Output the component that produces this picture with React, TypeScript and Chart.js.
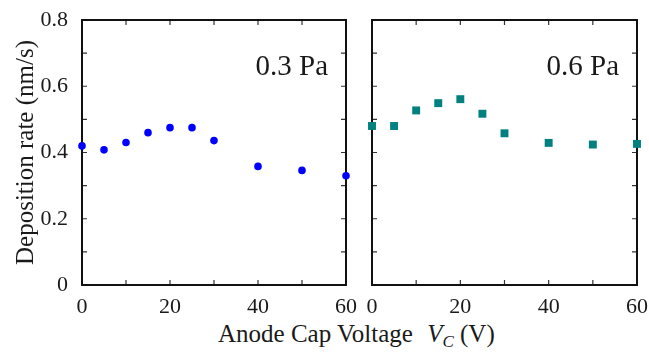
import React, { useEffect, useRef } from 'react';
import { Chart, registerables } from 'chart.js';

Chart.register(...registerables);

const SERIF = "'Liberation Serif', 'Times New Roman', serif";

// Data
const voltages = [0, 5, 10, 15, 20, 25, 30, 40, 50, 60];
const rate03 = [0.42, 0.408, 0.43, 0.46, 0.475, 0.475, 0.436, 0.358, 0.346, 0.33];
const rate06 = [0.48, 0.48, 0.527, 0.549, 0.561, 0.517, 0.458, 0.429, 0.424, 0.426];

// Axis ticks
const xTickLabels = [0, 20, 40, 60];
const yTickLabels = [0, 0.2, 0.4, 0.6, 0.8];
const xMinorTicks = [0, 10, 20, 30, 40, 50, 60];
const yMinorTicks = [0, 0.1, 0.2, 0.3, 0.4, 0.5, 0.6, 0.7, 0.8];

const panelLabels = ['0.3 Pa', '0.6 Pa'];
const yTitle = 'Deposition rate (nm/s)';

const framePlugin = {
  id: 'frame',
  beforeDatasetsDraw(chart: any) {
    const { ctx, chartArea: a, scales } = chart;
    ctx.save();
    ctx.strokeStyle = '#333';
    ctx.lineWidth = 1.2;
    ctx.beginPath();
    for (const v of xMinorTicks) {
      const px = scales.x.getPixelForValue(v);
      ctx.moveTo(px, a.bottom);
      ctx.lineTo(px, a.bottom - 5);
      ctx.moveTo(px, a.top);
      ctx.lineTo(px, a.top + 5);
    }
    for (const v of yMinorTicks) {
      const py = scales.y.getPixelForValue(v);
      ctx.moveTo(a.left, py);
      ctx.lineTo(a.left + 5, py);
      ctx.moveTo(a.right, py);
      ctx.lineTo(a.right - 5, py);
    }
    ctx.stroke();
    ctx.strokeStyle = '#111';
    ctx.lineWidth = 2;
    ctx.strokeRect(a.left, a.top, a.right - a.left, a.bottom - a.top);
    ctx.restore();
  },
  afterDraw(chart: any, _args: any, opts: any) {
    const { ctx, chartArea: a } = chart;
    ctx.save();
    ctx.font = `29px ${SERIF}`;
    ctx.fillStyle = '#1a1a1a';
    ctx.textAlign = 'right';
    ctx.textBaseline = 'alphabetic';
    ctx.fillText(opts.text, a.right - 18, a.top + 55);
    ctx.restore();
  },
};

type PanelProps = {
  left: number;
  width: number;
  values: number[];
  color: string;
  pointStyle: string;
  radius: number;
  label: string;
  showY: boolean;
  yAxisWidth: number;
};

function Panel({ left, width, values, color, pointStyle, radius, label, showY, yAxisWidth }: PanelProps) {
  const ref = useRef<HTMLCanvasElement | null>(null);
  useEffect(() => {
    if (!ref.current) return;
    const chart = new Chart(ref.current, {
      type: 'scatter',
      data: {
        datasets: [
          {
            data: voltages.map((v, i) => ({ x: v, y: values[i] })),
            backgroundColor: color,
            borderColor: color,
            borderWidth: 0,
            pointStyle: pointStyle as any,
            pointRadius: radius,
            pointHoverRadius: radius,
            clip: false as any,
          },
        ],
      },
      options: {
        responsive: false,
        animation: false,
        events: [],
        layout: { padding: { top: 20, right: 12, left: 0, bottom: 0 } },
        plugins: {
          legend: { display: false },
          tooltip: { enabled: false },
          frame: { text: label },
        } as any,
        scales: {
          x: {
            type: 'linear',
            min: 0,
            max: 60,
            grid: { display: false },
            border: { display: false },
            afterBuildTicks: (s: any) => {
              s.ticks = xTickLabels.map((v) => ({ value: v }));
            },
            afterFit: (s: any) => {
              s.height = 35;
            },
            ticks: {
              padding: 1,
              color: '#1a1a1a',
              font: { family: SERIF, size: 22 },
              callback: (v: any) => String(v),
            },
          },
          y: {
            type: 'linear',
            min: 0,
            max: 0.8,
            grid: { display: false },
            border: { display: false },
            afterBuildTicks: (s: any) => {
              s.ticks = yTickLabels.map((v) => ({ value: v }));
            },
            afterFit: (s: any) => {
              s.width = yAxisWidth;
            },
            ticks: {
              display: showY,
              padding: 6,
              color: '#1a1a1a',
              font: { family: SERIF, size: 22 },
              callback: (v: any) => String(v),
            },
            title: {
              display: showY,
              text: yTitle,
              color: '#1a1a1a',
              font: { family: SERIF, size: 25 },
              padding: { top: 11, bottom: 0 },
            },
          },
        },
      } as any,
      plugins: [framePlugin],
    });
    return () => chart.destroy();
  }, []);
  return (
    <canvas
      ref={ref}
      width={width}
      height={320}
      style={{ position: 'absolute', left, top: 0, width, height: 320 }}
    />
  );
}

export default function App() {
  return (
    <div
      style={{
        position: 'fixed',
        left: 0,
        top: 0,
        width: 649,
        height: 354,
        background: '#fff',
        overflow: 'hidden',
      }}
    >
      <Panel
        left={0}
        width={358}
        values={rate03}
        color="#0000ff"
        pointStyle="circle"
        radius={3.8}
        label={panelLabels[0]}
        showY={true}
        yAxisWidth={82}
      />
      <Panel
        left={352}
        width={297}
        values={rate06}
        color="#00807f"
        pointStyle="rect"
        radius={5.6}
        label={panelLabels[1]}
        showY={false}
        yAxisWidth={20}
      />
      <div
        style={{
          position: 'absolute',
          left: 218,
          top: 321,
          fontFamily: SERIF,
          fontSize: 25,
          lineHeight: 1,
          color: '#1a1a1a',
          whiteSpace: 'nowrap',
        }}
      >
        Anode Cap Voltage <i style={{ marginLeft: 8 }}>V</i>
        <sub style={{ fontSize: 17, verticalAlign: '-5px' }}>
          <i>C</i>
        </sub>{' '}
        (V)
      </div>
    </div>
  );
}
